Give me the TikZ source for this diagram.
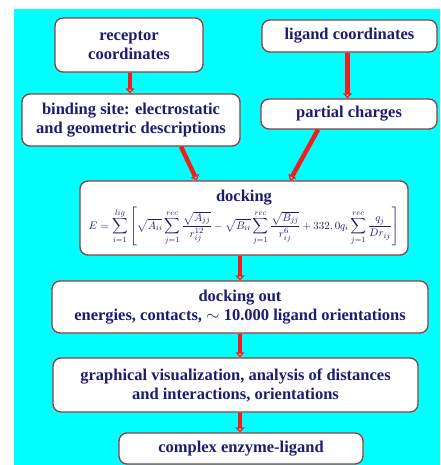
\documentclass[tikz,border=0pt]{standalone}
\usepackage{amsmath}
\usepackage{fontspec}
\setmainfont{Liberation Serif}
\usepackage{tikz}
\usetikzlibrary{arrows.meta, positioning}
\definecolor{cSky}{RGB}{0,255,255}
\definecolor{cNavy}{RGB}{28,28,112}
\definecolor{cRim}{RGB}{150,60,60}
\definecolor{cArrow}{RGB}{240,30,30}
\tikzset{
	stage/.style={rectangle, rounded corners=8pt, draw=cRim, line width=1.3pt, fill=white, text=cNavy, font=\fontsize{16.5}{19}\selectfont\bfseries, align=center, inner sep=2pt},
	flow/.style={-{Triangle[width=9pt,length=5pt,fill=white!80!red]}, draw=cArrow, line width=4.5pt},
}
\begin{document}
\begin{tikzpicture}[x=1pt,y=-1pt]
	\useasboundingbox (0,0) rectangle (440,465);
	\fill[cSky] (14,9) rectangle (440,465);
	% input boxes
	\node[stage, minimum width=148pt, minimum height=54pt] (rec) at (129,45) {receptor\\ coordinates};
	\node[stage, minimum width=175pt, minimum height=32pt] (lig) at (349.5,36) {ligand coordinates};
	\node[stage, minimum width=218pt, minimum height=52pt] (bind) at (131,120) {binding site: electrostatic\\ and geometric descriptions};
	\node[stage, minimum width=176pt, minimum height=30pt] (part) at (349,114) {partial charges};
	% docking step
	\node[stage, minimum width=328pt, minimum height=74pt] (dock) at (244,218) {docking\\[1pt]
		{\fontsize{11}{13}\selectfont\mdseries$\displaystyle E=\sum_{i=1}^{lig}\left[\sqrt{A_{ii}}\sum_{j=1}^{rec}\frac{\sqrt{A_{jj}}}{r_{ij}^{12}}-\sqrt{B_{ii}}\sum_{j=1}^{rec}\frac{\sqrt{B_{jj}}}{r_{ij}^{6}}+332,0q_i\sum_{j=1}^{rec}\frac{q_j}{Dr_{ij}}\right]$}};
	% output chain
	\node[stage, minimum width=376pt, minimum height=52pt] (out) at (240,307) {docking out\\ energies, contacts, $\sim$ 10.000 ligand orientations};
	\node[stage, minimum width=365pt, minimum height=54pt] (graph) at (235.5,385) {graphical visualization, analysis of distances\\ and interactions, orientations};
	\node[stage, minimum width=244pt, minimum height=31pt] (cplx) at (241,448.5) {complex enzyme-ligand};
	% arrows
	\draw[flow] ([xshift=1pt]rec.south) -- ([xshift=1pt]rec.south |- bind.north);
	\draw[flow] ([xshift=-2pt]lig.south) -- ([xshift=-2pt]lig.south |- part.north);
	\draw[flow] ([xshift=50pt]bind.south) -- ([xshift=-47pt]dock.north);
	\draw[flow] ([xshift=-31pt]part.south) -- ([xshift=46pt]dock.north);
	\draw[flow] (out.north |- dock.south) -- (out.north);
	\draw[flow] (out.south) -- (out.south |- graph.north);
	\draw[flow] (out.south |- graph.south) -- (out.south |- cplx.north);
\end{tikzpicture}
\end{document}
